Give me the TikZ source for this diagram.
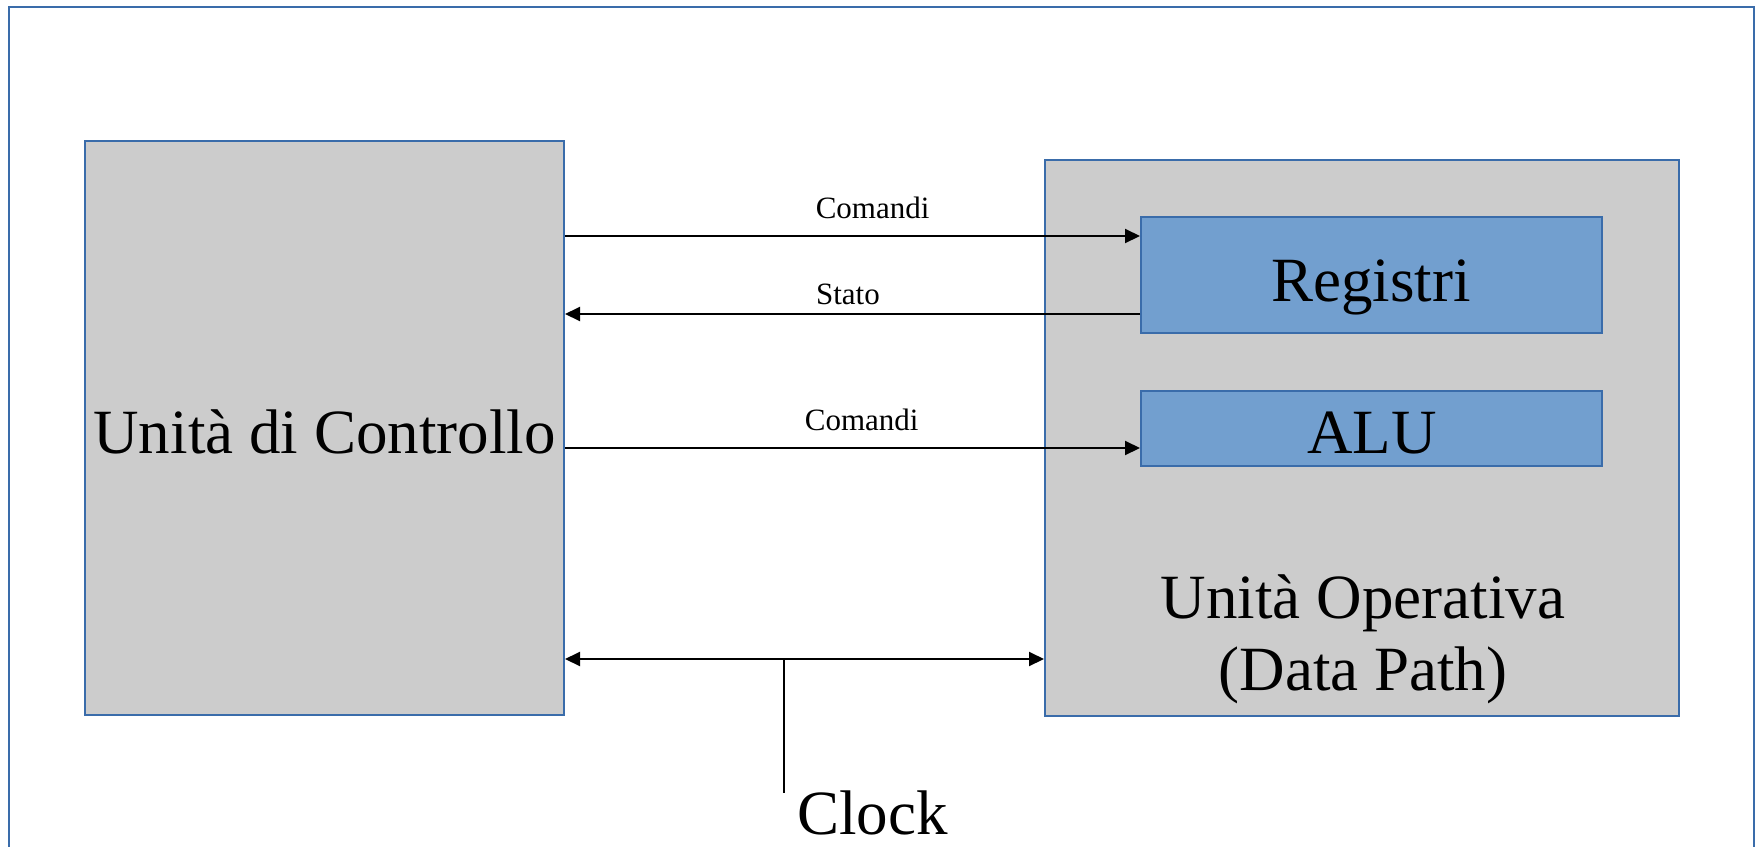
\documentclass[tikz,border=0pt]{standalone}
\usepackage{fontspec}
\setmainfont{Liberation Serif}
\usetikzlibrary{arrows.meta,calc}
\definecolor{boxgray}{RGB}{204,204,204}
\definecolor{edgeblue}{RGB}{58,108,170}
\definecolor{regblue}{RGB}{114,159,207}
\begin{document}
\begin{tikzpicture}[x=1pt,y=-1pt,
  bigtext/.style={font=\fontsize{63}{75}\selectfont,inner sep=0pt,anchor=base},
  smalltext/.style={font=\fontsize{31}{36}\selectfont},
  unit/.style={draw=edgeblue,line width=2pt,fill=boxgray,inner sep=0pt},
  regbox/.style={draw=edgeblue,line width=2pt,fill=regblue,inner sep=0pt},
  conn/.style={line width=2pt,-{Triangle[length=15pt,width=14pt]}},
  biconn/.style={line width=2pt,{Triangle[length=15pt,width=14pt]}-{Triangle[length=15pt,width=14pt]}},
  lbl/.style={smalltext,inner sep=0pt,anchor=base,yshift=18pt}]
\useasboundingbox (0,0) rectangle (1756,846);
% outer frame, open at the bottom
\draw[edgeblue,line width=2.5pt] (9,850) -- (9,7) -- (1754,7) -- (1754,850);

% blocks
\node[unit,minimum width=479pt,minimum height=574pt] (ctrl) at (324.5,428) {};
\node[bigtext] (ctrltext) at (324.5,453) {Unità di Controllo};
\node[unit,minimum width=634pt,minimum height=556pt] (dp) at (1362,438) {};
\node[regbox,minimum width=461pt,minimum height=116pt] (reg) at (1371.5,275) {};
\node[bigtext] (regtext) at (1371,301) {Registri};
\node[regbox,minimum width=461pt,minimum height=75pt] (alu) at (1371.5,428.5) {};
\node[bigtext] (alutext) at (1372,453) {ALU};
\node[bigtext] (dptext) at (1363,618) {Unità Operativa};
\node[bigtext] (dpsub) at (1363,690) {(Data Path)};

% signal lines
\coordinate (c1) at ([yshift=39pt]reg.west);
\coordinate (s1) at ([yshift=-39pt]reg.west);
\coordinate (c2) at ([yshift=-19.5pt]alu.west);
\draw[conn] (ctrl.east |- c1) -- (c1) node[lbl,pos=0.535] (lc1) {Comandi};
\draw[conn] (s1) -- (ctrl.east |- s1) node[lbl,pos=0.508,yshift=-8pt] (ls1) {Stato};
\draw[conn] (ctrl.east |- c2) -- (c2) node[lbl,pos=0.516] (lc2) {Comandi};

% clock line
\coordinate (ck) at (784,659);
\coordinate (ckend) at (784,793);
\draw[biconn] (ctrl.east |- ck) -- (dp.west |- ck);
\draw[line width=2pt] (ck) -- (ckend);
\node[bigtext,anchor=base west] (clock) at (797,834) {Clock};
\end{tikzpicture}
\end{document}
